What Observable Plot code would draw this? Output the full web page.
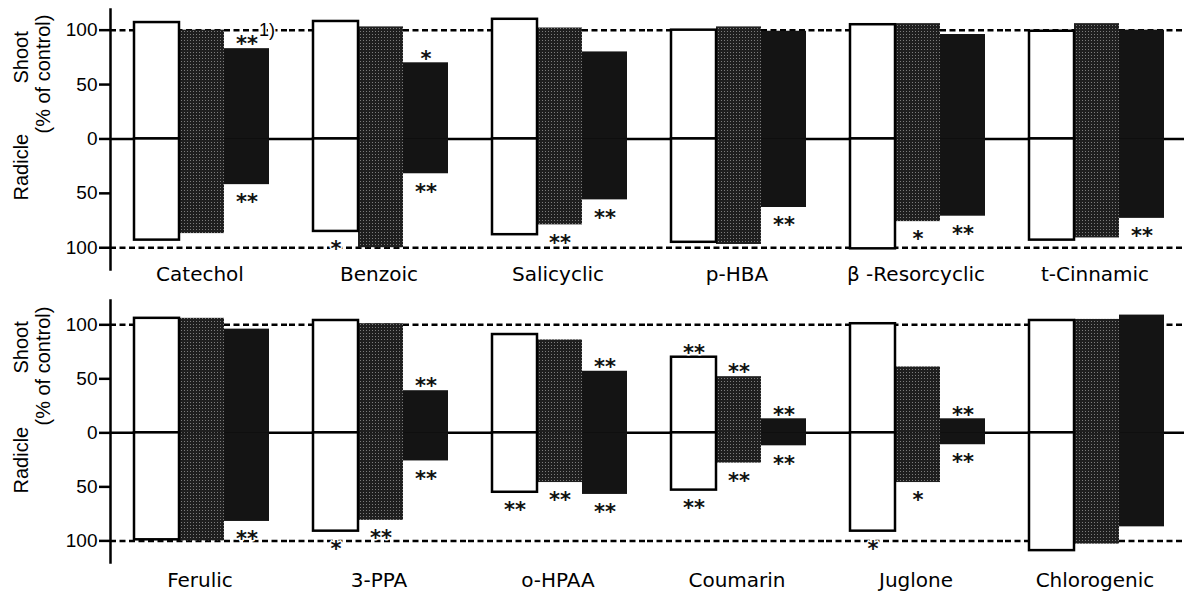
<!DOCTYPE html>
<html><head><meta charset="utf-8">
<script src="https://cdn.jsdelivr.net/npm/d3@7"></script>
<script src="https://cdn.jsdelivr.net/npm/@observablehq/plot@0.6"></script>
<style>
html,body{margin:0;padding:0;background:#fff;}
#chart svg{display:block;}
</style></head><body>
<svg width="0" height="0" style="position:absolute">
  <defs>
    <pattern id="stipple" width="3" height="3" patternUnits="userSpaceOnUse">
      <rect width="3" height="3" fill="#1f1f1f"></rect>
      <rect x="1" y="1" width="1" height="1" fill="#7c7c7c"></rect>
    </pattern>
  </defs>
</svg>
<div id="chart"></div>
<script>
// ---- data (percent of control) ----
const treatments = ["T1", "T2", "T3"];
const topCompounds = ["Catechol", "Benzoic", "Salicyclic", "p-HBA", "β -Resorcyclic", "t-Cinnamic"];
const bottomCompounds = ["Ferulic", "3-PPA", "o-HPAA", "Coumarin", "Juglone", "Chlorogenic"];

const topShoot   = [[107,100,83],[108,103,70],[110,102,80],[100,103,99],[105,106,96],[99,106,100]];
const topRadicle = [[93,87,42],[85,100,32],[88,79,56],[95,97,63],[101,76,71],[93,91,73]];
const topShootSig   = [["","","**"],["","","*"],["","",""],["","",""],["","",""],["","",""]];
const topRadicleSig = [["","","**"],["*","","**"],["","**","**"],["","","**"],["","*","**"],["","","**"]];

const bottomShoot   = [[106,106,96],[104,101,39],[91,86,57],[70,52,13],[101,61,13],[104,105,109]];
const bottomRadicle = [[99,100,82],[91,81,26],[55,46,57],[53,28,12],[91,46,11],[109,103,87]];
const bottomShootSig   = [["","",""],["","","**"],["","","**"],["**","**","**"],["","","**"],["","",""]];
const bottomRadicleSig = [["","","**"],["*","**","**"],["**","**","**"],["**","**","**"],["*","*","**"],["","",""]];

const topNotes = [{compound: "Catechol", treatment: "T3", note: "1)"}];
const yTicks = [-100, -50, 0, 50, 100];
const refLines = [100, -100];
const axisTitleUp = "Shoot";
const axisTitleDown = "Radicle";
const axisTitleUnit = "(% of control)";

function buildRows(compounds, shoot, radicle, shootSig, radicleSig) {
  const out = [];
  compounds.forEach((c, i) => treatments.forEach((t, j) => {
    out.push({compound: c, treatment: t, part: "Shoot", value: shoot[i][j], sig: shootSig[i][j]});
    out.push({compound: c, treatment: t, part: "Radicle", value: -radicle[i][j], sig: radicleSig[i][j]});
  }));
  return out;
}

const HELV = "Liberation Sans";
const fills = {T1: "#ffffff", T2: "url(#stipple)", T3: "#141414"};
const sigStyle = {fontFamily: "DejaVu Sans", fontWeight: "bold", fontSize: 21, fill: "#111",
  stroke: "#fff", strokeWidth: 3, paintOrder: "stroke"};

function panel(o) {
  const data = buildRows(o.compounds, o.shoot, o.radicle, o.shootSig, o.radicleSig);
  const notes = (o.notes || []).map(n => ({...n,
    value: data.find(d => d.compound === n.compound && d.treatment === n.treatment && d.part === "Shoot").value}));
  return Plot.plot({
    width: 1188, height: o.height,
    marginLeft: 110, marginRight: 4, marginTop: o.marginTop, marginBottom: o.marginBottom,
    style: "background:#fff;color:#000;font-family:'Liberation Sans',Arial,sans-serif;overflow:visible;",
    fx: {domain: o.compounds, padding: 0, label: null},
    x: {domain: treatments, paddingInner: 0, paddingOuter: 0.47, align: 0.55, axis: null},
    y: {domain: o.yDomain, axis: null},
    marks: [
      Plot.ruleY(refLines, {stroke: "#000", strokeWidth: 2.5, strokeDasharray: "6,3.5"}),
      Plot.ruleY([0], {stroke: "#000", strokeWidth: 2.5}),
      ...treatments.slice(1).map(t => Plot.barY(data.filter(d => d.treatment === t),
        {fx: "compound", x: "treatment", y1: 0, y2: "value", fill: fills[t]})),
      Plot.barY(data.filter(d => d.treatment === "T1"),
        {fx: "compound", x: "treatment", y1: 0, y2: "value", fill: fills.T1, stroke: "#000", strokeWidth: 2.5}),
      Plot.text(data.filter(d => d.sig && d.value > 0),
        {fx: "compound", x: "treatment", y: "value", text: "sig", dy: -4, ...sigStyle}),
      Plot.text(data.filter(d => d.sig && d.value < 0),
        {fx: "compound", x: "treatment", y: "value", text: "sig", dy: 18, ...sigStyle}),
      Plot.text(notes, {fx: "compound", x: "treatment", y: "value", text: "note", textAnchor: "start",
        dx: 12, dy: -18, fontSize: 18, fontFamily: HELV, fill: "#000", stroke: "#fff", strokeWidth: 3, paintOrder: "stroke"}),
      Plot.frame({anchor: "left", facetAnchor: "left", stroke: "#000", strokeWidth: 2.5}),
      Plot.axisY({ticks: yTicks, tickFormat: d => Math.abs(d), tickSize: 11, tickPadding: 2,
        fontSize: 19, fontFamily: HELV, label: null, strokeWidth: 2.5}),
      Plot.axisFx({anchor: "bottom", tickSize: 0, tickPadding: o.labelPad, fontSize: 20,
        fontFamily: "DejaVu Sans", label: null, stroke: "#000", strokeWidth: 0.5}),
      Plot.text([axisTitleUp], {frameAnchor: "left", facetAnchor: "left", rotate: -90, dx: -83, dy: o.upDy,
        lineAnchor: "bottom", fontSize: 20, fontFamily: HELV, fill: "#000"}),
      Plot.text([axisTitleDown], {frameAnchor: "left", facetAnchor: "left", rotate: -90, dx: -83, dy: o.downDy,
        lineAnchor: "bottom", fontSize: 20, fontFamily: HELV, fill: "#000"}),
      Plot.text([axisTitleUnit], {frameAnchor: "left", facetAnchor: "left", rotate: -90, dx: -61, dy: -6,
        lineAnchor: "bottom", fontSize: 20, fontFamily: HELV, fill: "#000"})
    ]
  });
}

const chart = document.getElementById("chart");
chart.append(panel({compounds: topCompounds, shoot: topShoot, radicle: topRadicle,
  shootSig: topShootSig, radicleSig: topRadicleSig, notes: topNotes,
  height: 290, marginTop: 9, marginBottom: 21, yDomain: [-120, 119], labelPad: -3, upDy: -56, downDy: 61}));
chart.append(panel({compounds: bottomCompounds, shoot: bottomShoot, radicle: bottomRadicle,
  shootSig: bottomShootSig, radicleSig: bottomRadicleSig, notes: [],
  height: 302, marginTop: 10, marginBottom: 30, yDomain: [-120, 122.5], labelPad: 10, upDy: -58, downDy: 62}));
</script>
</body></html>
